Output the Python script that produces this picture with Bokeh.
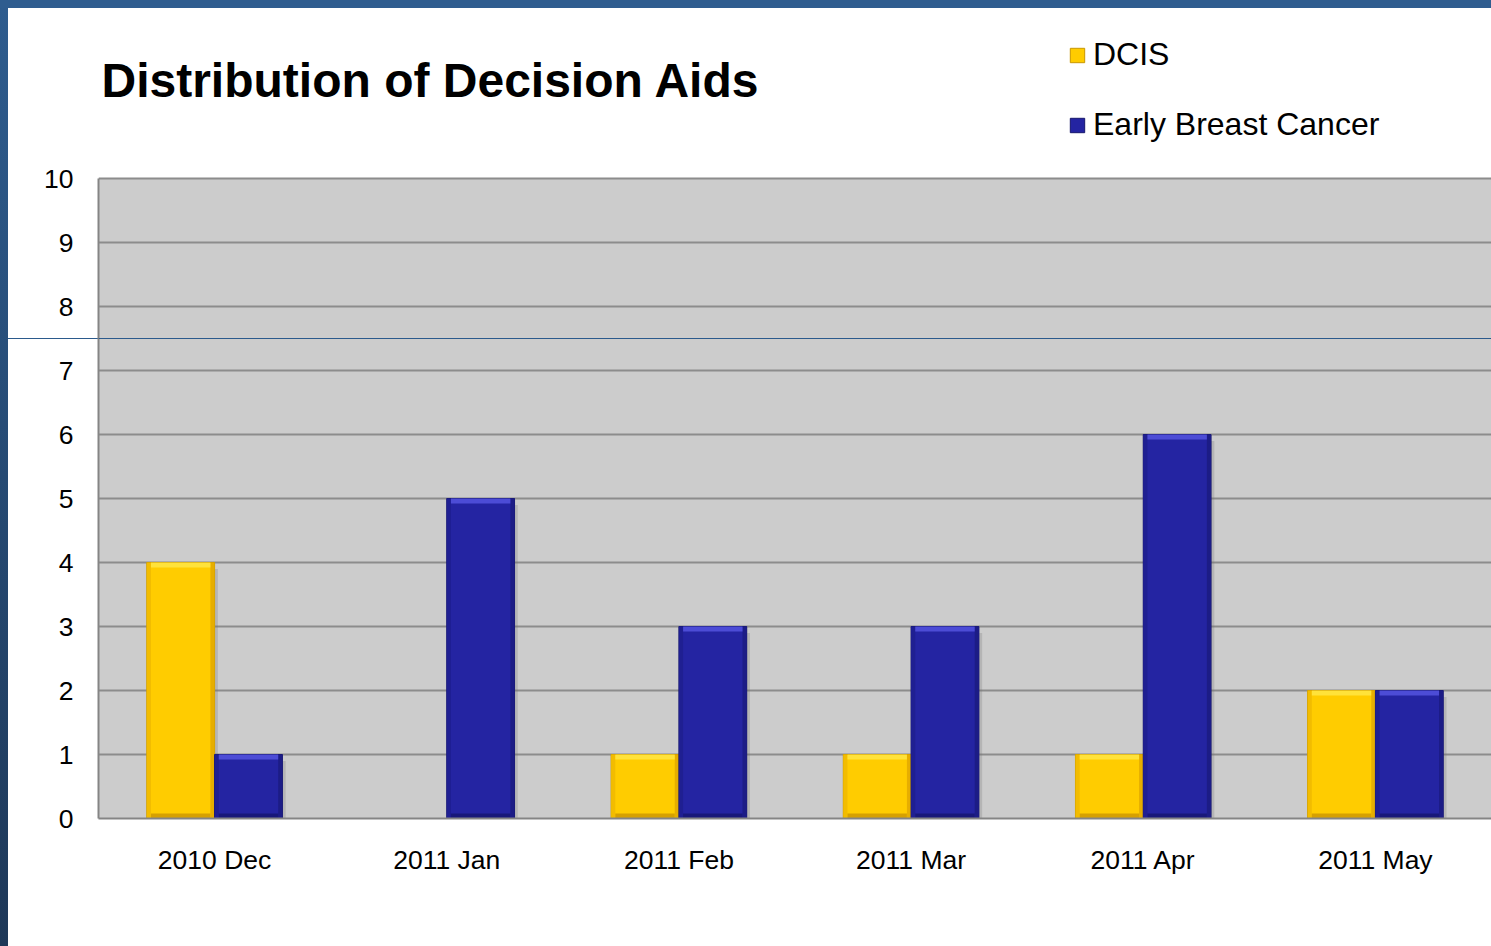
from bokeh.plotting import figure
from bokeh.layouts import column, row
from bokeh.models import (ColumnDataSource, FactorRange, Range1d, FixedTicker,
                          Legend, LegendItem, Label, BoxAnnotation, Div)
from bokeh.transform import dodge
from bokeh.embed import file_html
from bokeh.resources import INLINE

# ---- data ----
months = ["2010 Dec", "2011 Jan", "2011 Feb", "2011 Mar", "2011 Apr", "2011 May"]
dcis = [4, 0, 1, 1, 1, 2]
early_breast_cancer = [1, 5, 3, 3, 6, 2]
y_ticks = [0, 1, 2, 3, 4, 5, 6, 7, 8, 9, 10]
title_text = "Distribution of Decision Aids"
series_names = ["DCIS", "Early Breast Cancer"]

FONT = "Liberation Sans"
Y_MAX_DATA = 10
# frame extends above the value axis to hold title and legend (810 px tall, 64 px per unit)
Y_VIEW_TOP = 810 / 64

p = figure(x_range=FactorRange(*months, range_padding=0), y_range=Range1d(0, Y_VIEW_TOP),
           width=1483, height=938, output_backend="svg", toolbar_location=None,
           title=None, min_border_left=90, min_border_right=0,
           min_border_top=0, min_border_bottom=128)
p.background_fill_color = "white"
p.border_fill_color = "white"
p.border_fill_alpha = 0
p.outline_line_color = None

# grey plot area 0..10
p.add_layout(BoxAnnotation(bottom=0, top=Y_MAX_DATA, fill_color="#CCCCCC", fill_alpha=1,
                           line_color=None, level="image"))

p.xgrid.grid_line_color = None
p.ygrid.grid_line_color = "#8C8C8C"
p.ygrid.grid_line_width = 2
p.ygrid.level = "underlay"

for ax in (p.xaxis[0], p.yaxis[0]):
    ax.axis_line_color = "#858585"
    ax.axis_line_width = 2
    ax.major_tick_line_color = None
    ax.minor_tick_line_color = None
    ax.major_tick_out = 0
    ax.major_tick_in = 0
    ax.minor_tick_out = 0
    ax.major_label_text_font = FONT
    ax.major_label_text_font_size = "26.5px"
    ax.major_label_text_color = "black"
p.yaxis[0].ticker = FixedTicker(ticks=y_ticks)
p.yaxis[0].bounds = (0, Y_MAX_DATA)
p.yaxis[0].major_label_standoff = 25
p.xaxis[0].major_label_standoff = 26

W = 0.292
EX = 0.018   # side bevel width (category units)
EY = 0.08    # top/bottom bevel height (value units)

styles = {
    "DCIS": dict(main="#FFCC00", top="#FFE23A", left="#F2BC00", right="#E6AE00",
                 bottom="#D6A000", line="#C99700", off=-W / 2),
    "Early Breast Cancer": dict(main="#2424A2", top="#4C4CD6", left="#1F1F92", right="#1C1C86",
                                bottom="#18187A", line="#16166C", off=W / 2),
}

main_renderers = []
for name, vals in zip(series_names, [dcis, early_breast_cancer]):
    st = styles[name]
    xs = [m for m, v in zip(months, vals) if v > 0]
    vs = [v for v in vals if v > 0]
    src = ColumnDataSource(dict(x=xs, v=vs,
                                v_top_lo=[v - EY for v in vs],
                                v_bot_hi=[EY for v in vs],
                                v_sh=[v - 0.1 for v in vs]))
    off = st["off"]
    p.vbar(x=dodge("x", off + 0.014, range=p.x_range), width=W, bottom=0, top="v_sh",
           source=src, fill_color="#6E6E6E", fill_alpha=0.25, line_color=None)
    r = p.vbar(x=dodge("x", off, range=p.x_range), width=W, bottom=0, top="v",
               source=src, fill_color=st["main"], line_color=st["line"], line_width=1)
    main_renderers.append(r)
    p.vbar(x=dodge("x", off - W / 2 + EX / 2, range=p.x_range), width=EX, bottom=0, top="v",
           source=src, fill_color=st["left"], line_color=None)
    p.vbar(x=dodge("x", off + W / 2 - EX / 2, range=p.x_range), width=EX, bottom=0, top="v",
           source=src, fill_color=st["right"], line_color=None)
    p.vbar(x=dodge("x", off, range=p.x_range), width=W - 2 * EX, bottom="v_top_lo", top="v",
           source=src, fill_color=st["top"], line_color=None)
    p.vbar(x=dodge("x", off, range=p.x_range), width=W - 2 * EX, bottom=0, top="v_bot_hi",
           source=src, fill_color=st["bottom"], line_color=None)

legend = Legend(items=[LegendItem(label=n, renderers=[r]) for n, r in zip(series_names, main_renderers)],
                location=(970, 675), orientation="vertical",
                glyph_width=18, glyph_height=18, label_height=18, spacing=33,
                label_standoff=7, padding=0, margin=0,
                border_line_color=None, background_fill_alpha=0,
                label_text_font=FONT, label_text_font_size="32px", label_text_color="black")
p.add_layout(legend, "center")

p.add_layout(Label(x=3, y=738, x_units="screen", y_units="screen", text=title_text,
                   text_font=FONT, text_font_size="48px", text_font_style="bold",
                   text_color="black", text_baseline="alphabetic"))

# thin slide rule line across at value 7.5
p.add_layout(BoxAnnotation(top=7.5 + 0.008, bottom=7.5 - 0.008,
                           fill_color="#2B5A8C", fill_alpha=1, line_color=None, level="overlay"))

# slide frame decoration: top and left blue strips
top_strip = Div(text="", width=1491, height=8, margin=0,
                styles={"background-color": "#2F5D8F"})
left_strip = Div(text='<div style="position:absolute;left:8px;top:330px;width:90px;'
                      'height:1px;background:#2B5A8C;"></div>',
                 width=8, height=938, margin=0,
                 styles={"background": "linear-gradient(#2E5C8E, #1E3858)", "overflow": "visible"})

layout = column(top_strip, row(left_strip, p, spacing=0), spacing=0)

open("out.html", "w").write(file_html(layout, INLINE))
